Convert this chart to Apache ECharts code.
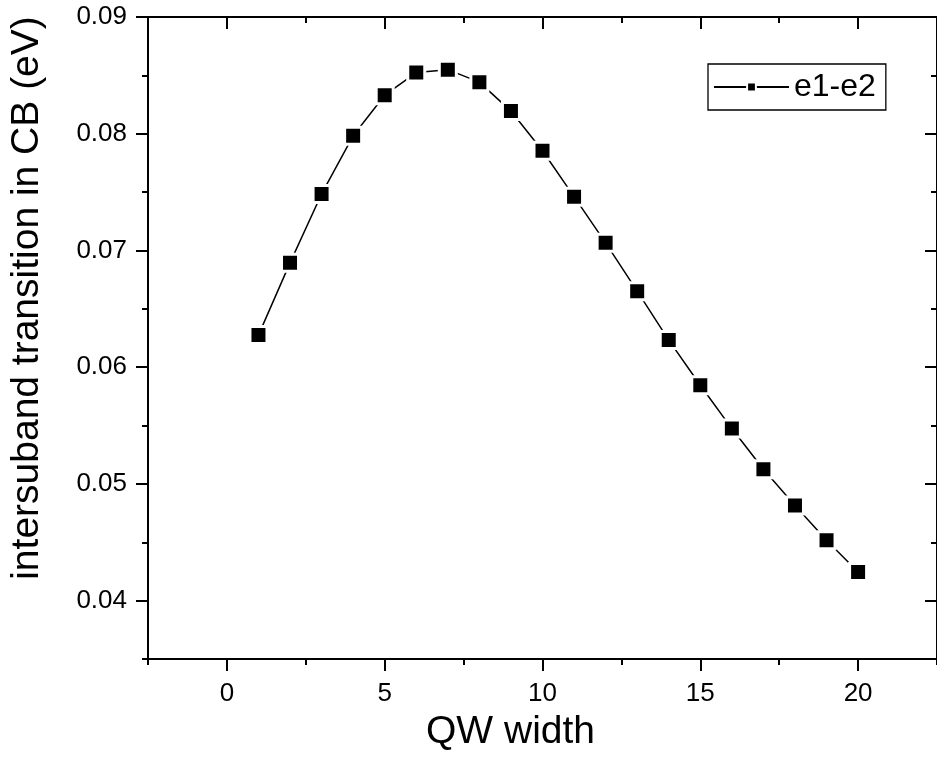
<!DOCTYPE html>
<html>
<head>
<meta charset="utf-8">
<script src="https://cdn.jsdelivr.net/npm/echarts@6/dist/echarts.min.js"></script>
<style>
  html, body { margin: 0; padding: 0; background: #fff; }
  #chart { width: 937px; height: 757px; }
</style>
</head>
<body>
<div id="chart"></div>
<script>
// QW width (nm) and e1-e2 intersubband transition energy (eV)
const qwWidth = [1, 2, 3, 4, 5, 6, 7, 8, 9, 10, 11, 12, 13, 14, 15, 16, 17, 18, 19, 20];
const e1e2 = [0.06275, 0.06894, 0.07484, 0.07982, 0.08330, 0.08524, 0.08549, 0.08442, 0.08194, 0.07854,
              0.07461, 0.07065, 0.06651, 0.06232, 0.05845, 0.05474, 0.05126, 0.04816, 0.04517, 0.04245];

// Tick values
const xMajor = [0, 5, 10, 15, 20];
const xMinor = [-2.5, 2.5, 7.5, 12.5, 17.5, 22.5];
const yMajor = [0.04, 0.05, 0.06, 0.07, 0.08, 0.09];
const yMinor = [0.035, 0.045, 0.055, 0.065, 0.075, 0.085];

const xRange = { min: -2.5, max: 22.5 };
const yRange = { min: 0.035, max: 0.09 };

const FONT = 'Liberation Sans, Arial, sans-serif';
const black = '#000';

function axisBase(range) {
  return {
    type: 'value', min: range.min, max: range.max,
    splitLine: { show: false },
    axisLine: { show: true, onZero: false, lineStyle: { color: black, width: 2 } }
  };
}

function tickAxis(range, pos, values, len, inside, withLabels, extra) {
  const a = axisBase(range);
  a.position = pos;
  a.axisTick = { show: true, inside: inside, length: len, customValues: values,
                 lineStyle: { color: black, width: 2 } };
  a.axisLabel = withLabels
    ? Object.assign({ show: true, customValues: values, color: black, fontFamily: FONT }, withLabels)
    : { show: false };
  return Object.assign(a, extra || {});
}

const chart = echarts.init(document.getElementById('chart'), null, { renderer: 'canvas' });

chart.setOption({
  backgroundColor: '#fff',
  animation: false,
  grid: { left: 147, top: 17, right: -2, bottom: 98, containLabel: false },
  legend: {
    left: 708, top: 64,
    padding: [7, 10, 7, 5],
    borderColor: black, borderWidth: 1.3,
    itemWidth: 75, itemHeight: 11,
    textStyle: { color: black, fontSize: 32, fontFamily: FONT },
    data: ['e1-e2']
  },
  xAxis: [
    tickAxis(xRange, 'bottom', xMajor, 12, false,
      { fontSize: 26, margin: 22, formatter: v => String(v) },
      { name: 'QW width', nameLocation: 'middle', nameGap: 54,
        nameTextStyle: { color: black, fontSize: 39, fontFamily: FONT, padding: [0, 64, 0, 0] } }),
    tickAxis(xRange, 'bottom', xMinor, 6, false, null),
    tickAxis(xRange, 'top', xMajor, 12, true, null),
    tickAxis(xRange, 'top', xMinor, 6, true, null)
  ],
  yAxis: [
    tickAxis(yRange, 'left', yMajor, 12, false,
      { fontSize: 26, margin: 21, formatter: v => v.toFixed(2) },
      { name: 'intersuband transition in CB (eV)', nameLocation: 'middle', nameGap: 101, nameRotate: 90,
        nameTextStyle: { color: black, fontSize: 39, fontFamily: FONT, padding: [0, 0, 0, 80] } }),
    tickAxis(yRange, 'left', yMinor, 6, false, null),
    tickAxis(yRange, 'right', yMajor, 12, true, null),
    tickAxis(yRange, 'right', yMinor, 6, true, null)
  ],
  series: [{
    name: 'e1-e2',
    type: 'line',
    xAxisIndex: 0, yAxisIndex: 0,
    data: qwWidth.map((x, i) => [x, e1e2[i]]),
    symbol: 'rect',
    symbolSize: 17,
    showSymbol: true,
    lineStyle: { color: black, width: 1.5 },
    itemStyle: { color: black, borderColor: '#fff', borderWidth: 3 },
    emphasis: { disabled: true },
    z: 3
  }]
});
</script>
</body>
</html>
